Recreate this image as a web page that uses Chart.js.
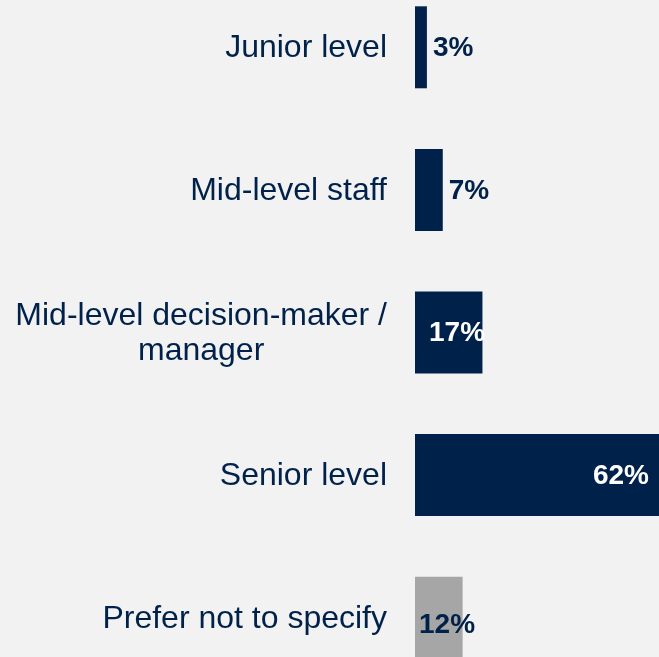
<!DOCTYPE html>
<html>
<head>
<meta charset="utf-8">
<script src="https://cdn.jsdelivr.net/npm/chart.js@4/dist/chart.umd.min.js"></script>
<style>
  html, body { margin: 0; padding: 0; background: #f2f2f2; overflow: hidden; }
  body { width: 659px; height: 657px; position: relative; }
  #wrap { position: absolute; left: 0; top: -24px; width: 659px; height: 713px; }
</style>
</head>
<body>
<div id="wrap"><canvas id="levelChart"></canvas></div>
<script>
// Seniority of respondents
const categories = [
    ['Junior level'],
    ['Mid-level staff'],
    ['Mid-level decision-maker /', 'manager'],
    ['Senior level'],
    ['Prefer not to specify']
];
const shares = [3, 7, 17, 62, 12];
const shareLabels = ['3%', '7%', '17%', '62%', '12%'];

const NAVY = '#00214a';
const GREY = '#a6a6a6';
const barColors = [NAVY, NAVY, NAVY, NAVY, GREY];

// where each value label sits (relative to bar end or base)
const labelStyles = [
    { from: 'end', dx: 6, align: 'left', color: NAVY, dy: 1 },
    { from: 'end', dx: 6, align: 'left', color: NAVY, dy: 1 },
    { from: 'base', dx: 14, align: 'left', color: '#ffffff', dy: 1 },
    { from: 'end', dx: -12, align: 'right', color: '#ffffff', dy: 1 },
    { from: 'base', dx: 4, align: 'left', color: NAVY, dy: 8 }
];

const LABEL_RIGHT = 387;
const LINE_HEIGHT = 35;

const sideLabels = {
    id: 'sideLabels',
    afterDatasetsDraw(chart) {
        const ctx = chart.ctx;
        const yScale = chart.scales.y;
        const meta = chart.getDatasetMeta(0);
        ctx.save();
        ctx.textBaseline = 'middle';

        // category labels, block right-aligned, lines centred within block
        ctx.font = '32px "Liberation Sans", Arial, sans-serif';
        ctx.fillStyle = NAVY;
        ctx.textAlign = 'center';
        categories.forEach((lines, i) => {
            const y = yScale.getPixelForValue(i) + 1;
            const blockW = Math.max(...lines.map(l => ctx.measureText(l).width));
            const cx = LABEL_RIGHT - blockW / 2;
            lines.forEach((line, j) => {
                ctx.fillText(line, cx, y + (j - (lines.length - 1) / 2) * LINE_HEIGHT);
            });
        });

        // value labels
        ctx.font = 'bold 28px "Liberation Sans", Arial, sans-serif';
        meta.data.forEach((bar, i) => {
            const s = labelStyles[i];
            const x0 = s.from === 'end' ? bar.x : bar.base;
            ctx.textAlign = s.align;
            ctx.fillStyle = s.color;
            ctx.fillText(shareLabels[i], x0 + s.dx, bar.y + s.dy);
        });
        ctx.restore();
    }
};

new Chart(document.getElementById('levelChart'), {
    type: 'bar',
    data: {
        labels: categories,
        datasets: [{
            data: shares,
            backgroundColor: barColors,
            borderWidth: 0,
            barPercentage: 1,
            categoryPercentage: 0.575
        }]
    },
    options: {
        indexAxis: 'y',
        responsive: true,
        maintainAspectRatio: false,
        animation: false,
        layout: { padding: { left: 415, right: 0, top: 0, bottom: 0 } },
        plugins: { legend: { display: false }, tooltip: { enabled: false } },
        scales: {
            x: { display: false, min: 0, max: 61.5 },
            y: { display: false }
        }
    },
    plugins: [sideLabels]
});
</script>
</body>
</html>
